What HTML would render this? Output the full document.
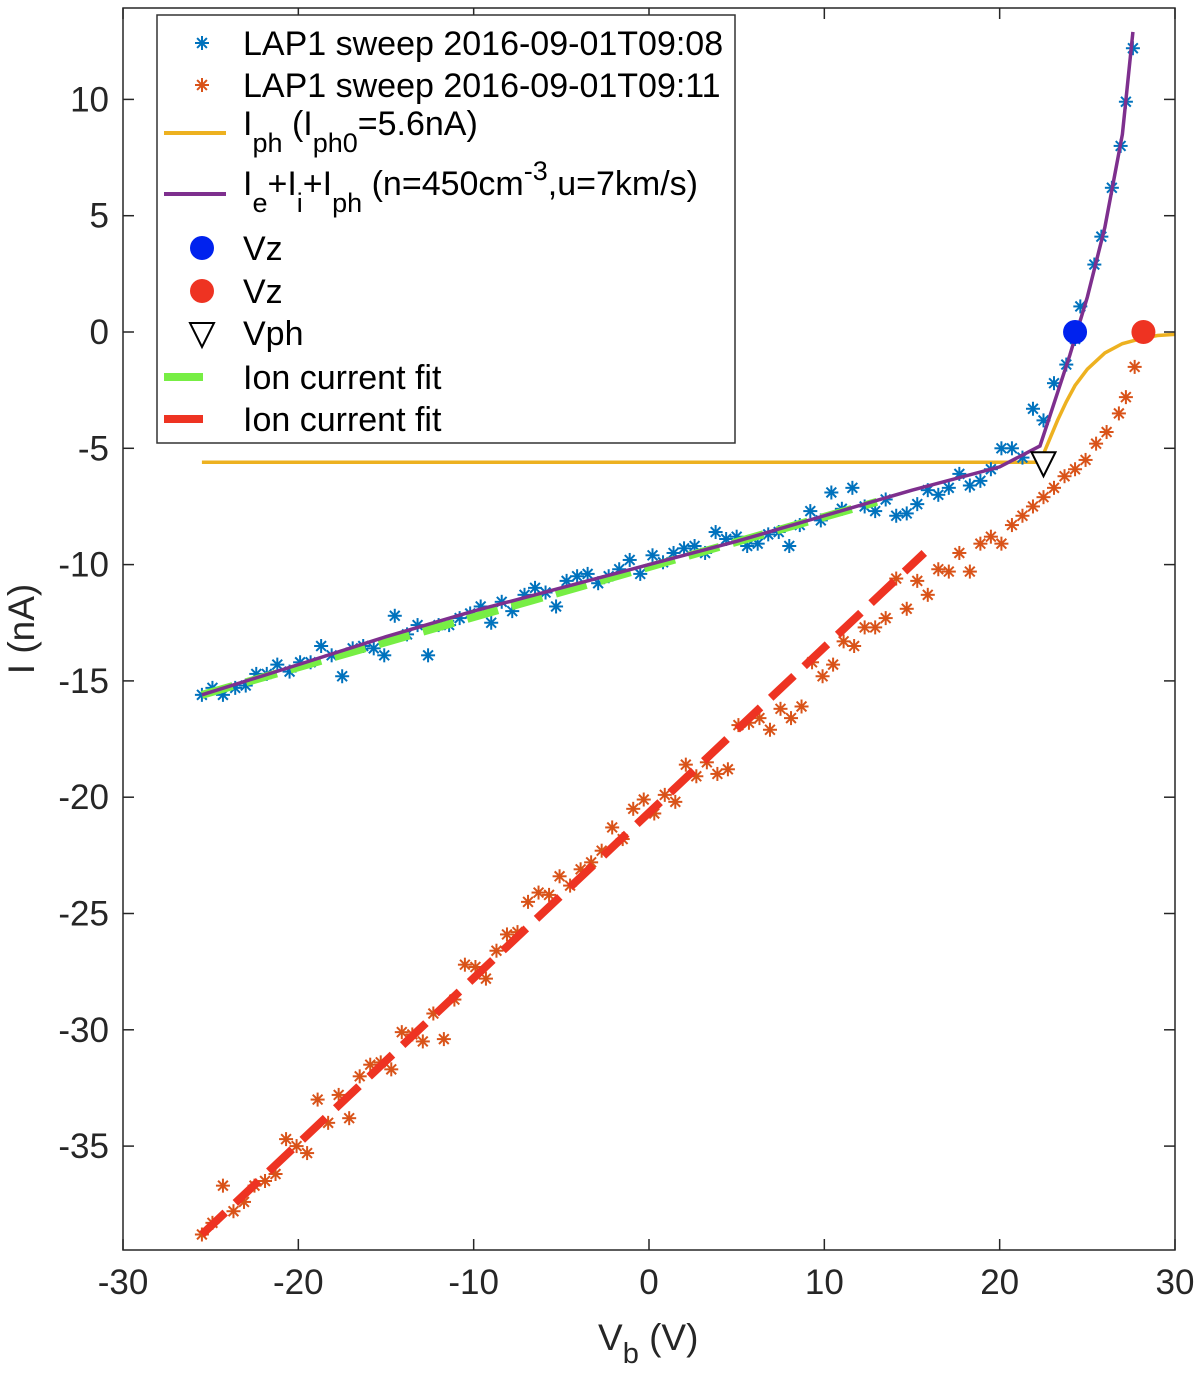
<!DOCTYPE html>
<html><head><meta charset="utf-8"><style>
body{margin:0;background:#fff;}
svg{display:block;font-family:"Liberation Sans",sans-serif;}
</style></head><body>
<svg id="chart" width="1200" height="1379" viewBox="0 0 1200 1379" xmlns="http://www.w3.org/2000/svg">
<rect x="0" y="0" width="1200" height="1379" fill="#fff"/>
<g id="plot"></g>
<g id="axes"></g>
<g id="legend">
 <rect x="157" y="15" width="578" height="428" fill="#fff" stroke="#333" stroke-width="1.5"/>
</g>
</svg>
<script>
const blueV=[-25.5,-24.9,-24.3,-23.6,-23,-22.4,-21.8,-21.2,-20.5,-19.9,-19.3,-18.7,-18.1,-17.5,-16.9,-16.3,-15.7,-15.1,-14.5,-13.8,-13.2,-12.6,-12,-11.4,-10.8,-10.2,-9.6,-9,-8.4,-7.8,-7.1,-6.5,-5.9,-5.3,-4.7,-4.1,-3.5,-2.9,-2.3,-1.7,-1.1,-0.5,0.2,0.8,1.4,2,2.6,3.2,3.8,4.4,5,5.6,6.2,6.8,7.4,8,8.6,9.2,9.8,10.4,11,11.6,12.3,12.9,13.5,14.1,14.7,15.3,15.9,16.5,17.1,17.7,18.3,18.9,19.5,20.1,20.7,21.3,21.9,22.5,23.1,23.8,24.3,24.6,25.4,25.8,26.4,26.9,27.2,27.6];
const blueI=[-15.6,-15.3,-15.6,-15.3,-15.2,-14.7,-14.7,-14.3,-14.6,-14.2,-14.2,-13.5,-13.9,-14.8,-13.6,-13.5,-13.6,-13.9,-12.2,-13.0,-12.6,-13.9,-12.6,-12.6,-12.3,-12.1,-11.8,-12.5,-11.6,-12.0,-11.3,-11.0,-11.2,-11.8,-10.7,-10.5,-10.4,-10.8,-10.5,-10.2,-9.8,-10.4,-9.6,-9.9,-9.5,-9.3,-9.2,-9.5,-8.6,-8.9,-8.8,-9.2,-9.1,-8.7,-8.6,-9.2,-8.3,-7.7,-8.1,-6.9,-7.6,-6.7,-7.5,-7.7,-7.2,-7.9,-7.8,-7.4,-6.8,-7.0,-6.7,-6.1,-6.6,-6.4,-5.9,-5.0,-5.0,-5.4,-3.3,-3.8,-2.2,-1.4,-0.3,1.1,2.9,4.1,6.2,8.0,9.9,12.2];
const redV=[-25.5,-24.9,-24.3,-23.7,-23.1,-22.5,-21.9,-21.3,-20.7,-20.1,-19.5,-18.9,-18.3,-17.7,-17.1,-16.5,-15.9,-15.3,-14.7,-14.1,-13.5,-12.9,-12.3,-11.7,-11.1,-10.5,-9.9,-9.3,-8.7,-8.1,-7.5,-6.9,-6.3,-5.7,-5.1,-4.5,-3.9,-3.3,-2.7,-2.1,-1.5,-0.9,-0.3,0.3,0.9,1.5,2.1,2.7,3.3,3.9,4.5,5.1,5.7,6.3,6.9,7.5,8.1,8.7,9.3,9.9,10.5,11.1,11.7,12.3,12.9,13.5,14.1,14.7,15.3,15.9,16.5,17.1,17.7,18.3,18.9,19.5,20.1,20.7,21.3,21.9,22.5,23.1,23.7,24.3,24.9,25.5,26.1,26.8,27.2,27.7];
const redI=[-38.8,-38.3,-36.7,-37.8,-37.4,-36.7,-36.5,-36.2,-34.7,-35.0,-35.3,-33.0,-34.0,-32.8,-33.8,-32.0,-31.5,-31.4,-31.7,-30.1,-30.2,-30.5,-29.3,-30.4,-28.7,-27.2,-27.3,-27.8,-26.6,-25.9,-25.8,-24.5,-24.1,-24.2,-23.4,-23.8,-23.1,-22.8,-22.3,-21.3,-21.8,-20.5,-20.1,-20.7,-19.9,-20.2,-18.6,-19.1,-18.5,-19.0,-18.8,-16.9,-16.8,-16.6,-17.1,-16.2,-16.6,-16.1,-14.2,-14.8,-14.3,-13.3,-13.5,-12.7,-12.7,-12.3,-10.6,-11.9,-10.7,-11.3,-10.2,-10.3,-9.5,-10.3,-9.1,-8.8,-9.1,-8.3,-7.9,-7.5,-7.1,-6.7,-6.2,-5.9,-5.5,-4.8,-4.3,-3.5,-2.8,-1.5];
const phV=[-25.5,22.3,22.8,23.3,23.8,24.3,25,26,27,28,29,30];
const phI=[-5.6,-5.6,-4.7,-3.8,-3.0,-2.3,-1.6,-0.9,-0.5,-0.3,-0.15,-0.1];
const totV=[-25.5,-20,-15,-10,-5,0,5,10,15,20,22.3,23,24,25,26,27,27.6];
const totI=[-15.6,-14.3,-13.1,-12.0,-11.0,-10.0,-9.0,-7.9,-6.8,-5.8,-4.9,-3.3,-1.0,1.5,4.5,8.5,12.9];
const greenFitV=[-25.5,13];
const greenFitI=[-15.6,-7.3];
const redFitV=[-25.5,15.7];
const redFitI=[-38.8,-9.5];
const vzBlue=[24.3,0], vzRed=[28.2,0], vph=[22.5,-5.6];
const xTicks=[-30,-20,-10,0,10,20,30];
const yTicks=[-35,-30,-25,-20,-15,-10,-5,0,5,10];

const L=123,R=1175,T=8,B=1250;
const X=v=>649+(v)*17.533;
const Y=i=>332-(i)*23.26;
const NS="http://www.w3.org/2000/svg";
function mk(tag,attrs,parent){const e=document.createElementNS(NS,tag);for(const k in attrs)e.setAttribute(k,attrs[k]);parent.appendChild(e);return e;}
const plot=document.getElementById('plot'), axes=document.getElementById('axes'), leg=document.getElementById('legend');

function star(cx,cy,col,par){const g=mk('g',{stroke:col,'stroke-width':2},par);const r=7;
 mk('line',{x1:cx-r,y1:cy,x2:cx+r,y2:cy},g);mk('line',{x1:cx,y1:cy-r,x2:cx,y2:cy+r},g);
 mk('line',{x1:cx-r*0.7,y1:cy-r*0.7,x2:cx+r*0.7,y2:cy+r*0.7},g);mk('line',{x1:cx-r*0.7,y1:cy+r*0.7,x2:cx+r*0.7,y2:cy-r*0.7},g);return g;}
function poly(vs,is,attrs,name){const p=mk('polyline',Object.assign({points:vs.map((v,k)=>X(v)+','+Y(is[k])).join(' '),fill:'none'},attrs),plot);
 
 return p;}

poly(phV,phI,{stroke:'#EDB120','stroke-width':3.5},'photoemission-current-line');
blueV.forEach((v,k)=>{const g=star(X(v),Y(blueI[k]),'#0072BD',plot);
 
 });
redV.forEach((v,k)=>{const g=star(X(v),Y(redI[k]),'#D95319',plot);
 
 });
poly(greenFitV,greenFitI,{stroke:'#77EE44','stroke-width':8,'stroke-dasharray':'32 14'},'green-ion-fit-line');
poly(redFitV,redFitI,{stroke:'#EE3322','stroke-width':8,'stroke-dasharray':'32 14'},'red-ion-fit-line');
poly(totV,totI,{stroke:'#7E2F8E','stroke-width':3.5},'total-current-model-line');
let c=mk('circle',{cx:X(vzBlue[0]),cy:Y(vzBlue[1]),r:12,fill:'#0022EE'},plot);


c=mk('circle',{cx:X(vzRed[0]),cy:Y(vzRed[1]),r:12,fill:'#EE3322'},plot);


const tx=X(vph[0]),ty=Y(vph[1]);
c=mk('polygon',{points:`${tx-12},${ty-10} ${tx+12},${ty-10} ${tx},${ty+14}`,fill:'#fff',stroke:'#000','stroke-width':2},plot);



mk('rect',{x:L,y:T,width:R-L,height:B-T,fill:'none',stroke:'#262626','stroke-width':1.5},axes);
xTicks.forEach(v=>{const x=X(v);mk('line',{x1:x,y1:B,x2:x,y2:B-11,stroke:'#262626','stroke-width':1.5},axes);mk('line',{x1:x,y1:T,x2:x,y2:T+11,stroke:'#262626','stroke-width':1.5},axes);
 const t=mk('text',{x:x,y:B+44,'text-anchor':'middle','font-size':35,fill:'#262626'},axes);t.textContent=v;
 
 });
yTicks.forEach(v=>{const y=Y(v);mk('line',{x1:L,y1:y,x2:L+11,y2:y,stroke:'#262626','stroke-width':1.5},axes);mk('line',{x1:R,y1:y,x2:R-11,y2:y,stroke:'#262626','stroke-width':1.5},axes);
 const t=mk('text',{x:L-14,y:y+12,'text-anchor':'end','font-size':35,fill:'#262626'},axes);t.textContent=v;
 
 });
let t=mk('text',{x:0,y:0,'font-size':37,fill:'#262626','text-anchor':'middle',transform:'translate(34,629) rotate(-90)'},axes);t.textContent='I (nA)';


t=mk('text',{x:598,y:1350,'font-size':37,fill:'#262626'},axes);
t.innerHTML='V<tspan font-size="29" dy="13">b</tspan><tspan dy="-13"> (V)</tspan>';



const lg=[43,85,130,190,248,291,333,377,419];
function ltext(y,html,name){const e=mk('text',{x:243,y:y+12,'font-size':34,fill:'#000'},leg);e.innerHTML=html;
 
 }
star(202,lg[0],'#0072BD',leg);ltext(lg[0],'LAP1 sweep 2016-09-01T09:08','legend-sweep-0908');
star(202,lg[1],'#D95319',leg);ltext(lg[1],'LAP1 sweep 2016-09-01T09:11','legend-sweep-0911');
mk('line',{x1:164,y1:133,x2:226,y2:133,stroke:'#EDB120','stroke-width':4},leg);
ltext(lg[2]-7,'I<tspan font-size="27" dy="17">ph</tspan><tspan dy="-17"> (I</tspan><tspan font-size="27" dy="17">ph0</tspan><tspan dy="-17">=5.6nA)</tspan>','legend-iph');
mk('line',{x1:164,y1:194,x2:226,y2:194,stroke:'#7E2F8E','stroke-width':4},leg);
ltext(lg[3]-7,'I<tspan font-size="27" dy="17">e</tspan><tspan dy="-17">+I</tspan><tspan font-size="27" dy="17">i</tspan><tspan dy="-17">+I</tspan><tspan font-size="27" dy="17">ph</tspan><tspan dy="-17"> (n=450cm</tspan><tspan font-size="27" dy="-15">-3</tspan><tspan dy="15">,u=7km/s)</tspan>','legend-total');
mk('circle',{cx:202,cy:lg[4],r:12,fill:'#0022EE'},leg);ltext(lg[4],'Vz','legend-vz-blue');
mk('circle',{cx:202,cy:lg[5],r:12,fill:'#EE3322'},leg);ltext(lg[5],'Vz','legend-vz-red');
mk('polygon',{points:`190,${lg[6]-10} 214,${lg[6]-10} 202,${lg[6]+14}`,fill:'#fff',stroke:'#000','stroke-width':2},leg);ltext(lg[6],'Vph','legend-vph');
mk('line',{x1:164,y1:lg[7],x2:203,y2:lg[7],stroke:'#77EE44','stroke-width':8},leg);ltext(lg[7],'Ion current fit','legend-green-fit');
mk('line',{x1:164,y1:lg[8],x2:203,y2:lg[8],stroke:'#EE3322','stroke-width':8},leg);ltext(lg[8],'Ion current fit','legend-red-fit');
</script>
</body></html>
